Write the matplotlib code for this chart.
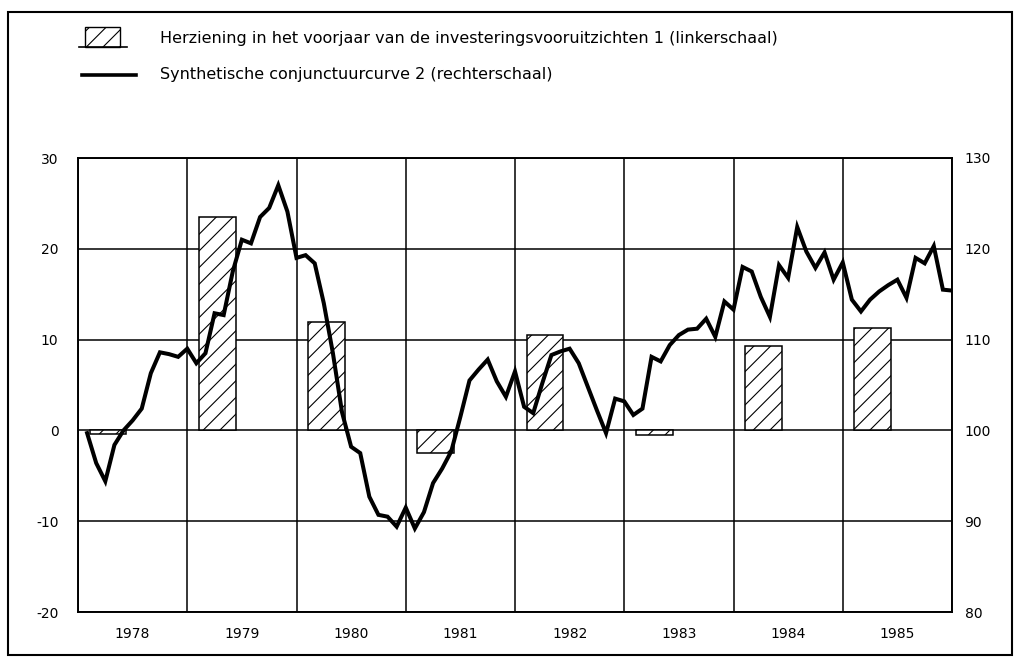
import numpy as np
import matplotlib
matplotlib.use("Agg")
import matplotlib.pyplot as plt
from matplotlib.patches import Rectangle
from matplotlib.lines import Line2D

plt.rcParams['font.family'] = ['DejaVu Sans']
plt.rcParams['axes.unicode_minus'] = False
plt.rcParams['hatch.linewidth'] = 0.8

# data
years = [1978, 1979, 1980, 1981, 1982, 1983, 1984, 1985]
# revision of spring investment outlook (left scale), bars cover roughly Feb-May
revision = [-0.4, 23.5, 11.9, -2.5, 10.5, -0.5, 9.3, 11.3]
# synthetic business cycle curve (right scale), monthly Jan 1978 - Dec 1985
curve = [99.7, 96.4, 94.4, 98.4, 100.0, 101.1, 102.4, 106.3, 108.6, 108.4, 108.1, 109.0,
         107.4, 108.5, 112.9, 112.7, 117.5, 121.0, 120.6, 123.5, 124.5, 127.0, 124.1, 119.0,
         119.3, 118.4, 114.0, 108.5, 102.0, 98.2, 97.5, 92.7, 90.7, 90.5, 89.4, 91.5,
         89.2, 91.0, 94.2, 95.8, 97.7, 101.5, 105.5, 106.7, 107.8, 105.4, 103.7, 106.5,
         102.6, 101.9, 105.2, 108.3, 108.7, 109.0, 107.4, 104.8, 102.2, 99.7, 103.5, 103.2,
         101.7, 102.4, 108.1, 107.6, 109.4, 110.5, 111.1, 111.2, 112.3, 110.3, 114.2, 113.3,
         118.0, 117.5, 114.7, 112.5, 118.2, 116.8, 122.4, 119.7, 117.9, 119.6, 116.6, 118.5,
         114.4, 113.1, 114.4, 115.3, 116.0, 116.6, 114.6, 119.0, 118.4, 120.3, 115.5, 115.4]
left_ticks = [-20, -10, 0, 10, 20, 30]
right_ticks = [80, 90, 100, 110, 120, 130]
label_bars = "Herziening in het voorjaar van de investeringsvooruitzichten 1 (linkerschaal)"
label_line = "Synthetische conjunctuurcurve 2 (rechterschaal)"

W, H = 1019, 663
fig = plt.figure(figsize=(W / 100, H / 100), dpi=100)
fig.patch.set_facecolor('white')

def fx(px):
    return px / W

def fy(py):
    return 1 - py / H

ax = fig.add_axes([fx(78), fy(612), fx(952) - fx(78), fy(158) - fy(612)])
ax.set_xlim(1978, 1986)
ax.set_ylim(-20, 30)
ax.set_axisbelow(True)

bar_x = np.array(years) + 0.275
ax.bar(bar_x, revision, width=0.335, color='white', edgecolor='black',
       hatch='//', linewidth=1.1, zorder=2)

ax2 = ax.twinx()
ax2.set_ylim(80, 130)
months = 1978 + np.arange(1, len(curve) + 1) / 12
ax2.plot(months, curve, color='black', linewidth=2.9, solid_joinstyle='miter', zorder=3)

# grid and ticks
ax.set_xticks(np.arange(1978, 1987))
ax.set_xticklabels([])
ax.set_xticks(np.array(years) + 0.5, minor=True)
ax.set_xticklabels([str(y) for y in years], minor=True)
ax.tick_params(axis='x', which='both', length=0)
ax.tick_params(axis='x', which='minor', pad=11, labelsize=10)
ax.grid(True, axis='x', which='major', color='black', linewidth=1.1)
ax.set_yticks(left_ticks)
ax.tick_params(axis='y', length=0, pad=14, labelsize=10)
ax.grid(True, axis='y', color='black', linewidth=1.1)
ax2.set_yticks(right_ticks)
ax2.tick_params(axis='y', length=0, pad=9, labelsize=10)
for a in (ax, ax2):
    for s in a.spines.values():
        s.set_linewidth(1.2)
        s.set_color('black')

# outer frame
fig.add_artist(Rectangle((fx(8), fy(655)), fx(1012) - fx(8), fy(12) - fy(655),
                         transform=fig.transFigure, fill=False,
                         edgecolor='black', linewidth=1.5))

# legend
fig.add_artist(Rectangle((fx(85), fy(47)), fx(120) - fx(85), fy(27) - fy(47),
                         transform=fig.transFigure, facecolor='white',
                         edgecolor='black', hatch='//', linewidth=1.0))
fig.add_artist(Line2D([fx(79), fx(127)], [fy(47), fy(47)], transform=fig.transFigure,
                      color='black', linewidth=1.2))
fig.add_artist(Line2D([fx(82), fx(136)], [fy(75), fy(75)], transform=fig.transFigure,
                      color='black', linewidth=2.6))
fig.text(fx(160), fy(38), label_bars, fontsize=11.5, va='center', ha='left')
fig.text(fx(160), fy(75), label_line, fontsize=11.5, va='center', ha='left')

fig.savefig("out.png", dpi=100)
